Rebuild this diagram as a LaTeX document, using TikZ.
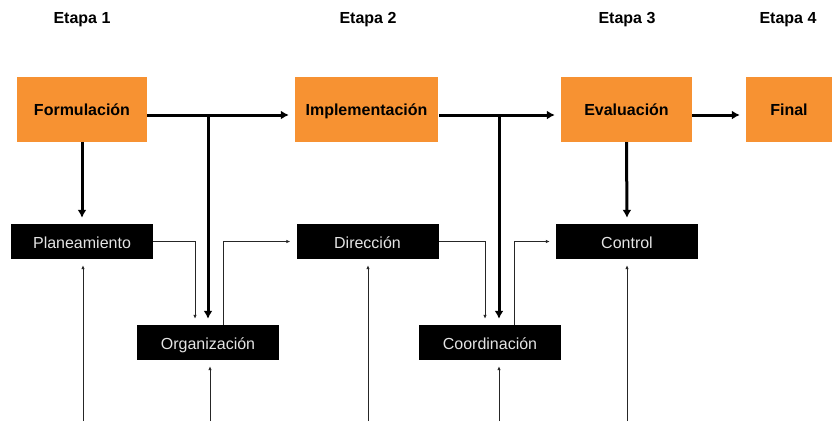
\documentclass[tikz,border=0pt]{standalone}
\usepackage{fontspec}
\setmainfont{Liberation Sans}
\usetikzlibrary{arrows.meta}
\definecolor{naranja}{RGB}{247,146,50}
\definecolor{gristexto}{RGB}{228,228,228}
\tikzset{
  etapa/.style={font=\fontsize{16}{19}\selectfont\bfseries},
  fase/.style={fill=naranja, minimum width=#1, minimum height=65pt, inner sep=0pt,
    text height=13pt, text depth=2pt, font=\fontsize{16}{19}\selectfont\bfseries},
  tarea/.style={fill=black, text=gristexto, minimum width=142pt, minimum height=35pt,
    inner sep=0pt, text height=13.5pt, text depth=0pt, font=\fontsize{16}{19}\selectfont},
  grueso/.style={-{Latex[length=8pt,width=9pt]}, line width=3pt, shorten >=6pt},
  fino/.style={-{Latex[length=4pt,width=3.5pt]}, line width=0.9pt, black!85, shorten >=6pt},
}

\begin{document}
\begin{tikzpicture}[x=1pt,y=-1pt]
\useasboundingbox (0,0) rectangle (832,421);

\node[etapa] (e1) at (82,20) {Etapa 1};
\node[etapa] (e2) at (368,20) {Etapa 2};
\node[etapa] (e3) at (627,20) {Etapa 3};
\node[etapa] (e4) at (788,20) {Etapa 4};

\node[fase=130pt] (form) at (82,109.5) {Formulación};
\node[fase=143pt] (impl) at (366.5,109.5) {Implementación};
\node[fase=131pt] (eval) at (626.5,109.5) {Evaluación};
\node[fase=86pt] (fin) at (789,109.5) {Final};

\node[tarea] (plan) at (82,241.5) {Planeamiento};
\node[tarea] (orga) at (208,342.5) {Organización};
\node[tarea] (dire) at (367.5,241.5) {Dirección};
\node[tarea] (coor) at (490,342.5) {Coordinación};
\node[tarea] (cont) at (627,241.5) {Control};

% etapas principales
\coordinate (F1) at (147,115);
\coordinate (F2) at (439,115);
\coordinate (F3) at (692,115);
\coordinate (M1) at (208,115);
\coordinate (M2) at (499,115);
\draw[grueso] (F1) -- (F1 -| impl.west);
\draw[grueso] (F2) -- (F2 -| eval.west);
\draw[grueso] (F3) -- (F3 -| fin.west);
\draw[grueso] (M1) -- (M1 |- orga.north);
\draw[grueso] (M2) -- (M2 |- coor.north);
\draw[grueso] (form.south) -- (plan.north);
\draw[grueso] (eval.south) -- (cont.north);

% enlaces entre tareas
\draw[fino] (plan.east) -| ([xshift=-13pt]orga.north);
\draw[fino] ([xshift=15pt]orga.north) |- (dire.west);
\draw[fino] (dire.east) -| ([xshift=-5pt]coor.north);
\draw[fino] ([xshift=24pt]coor.north) |- (cont.west);

% entradas desde abajo
\coordinate (B1) at (83,421);
\coordinate (B2) at (210,421);
\coordinate (B3) at (368,421);
\coordinate (B4) at (499,421);
\coordinate (B5) at (627,421);
\draw[fino] (B1) -- (B1 |- plan.south);
\draw[fino] (B2) -- (B2 |- orga.south);
\draw[fino] (B3) -- (B3 |- dire.south);
\draw[fino] (B4) -- (B4 |- coor.south);
\draw[fino] (B5) -- (B5 |- cont.south);
\end{tikzpicture}
\end{document}
